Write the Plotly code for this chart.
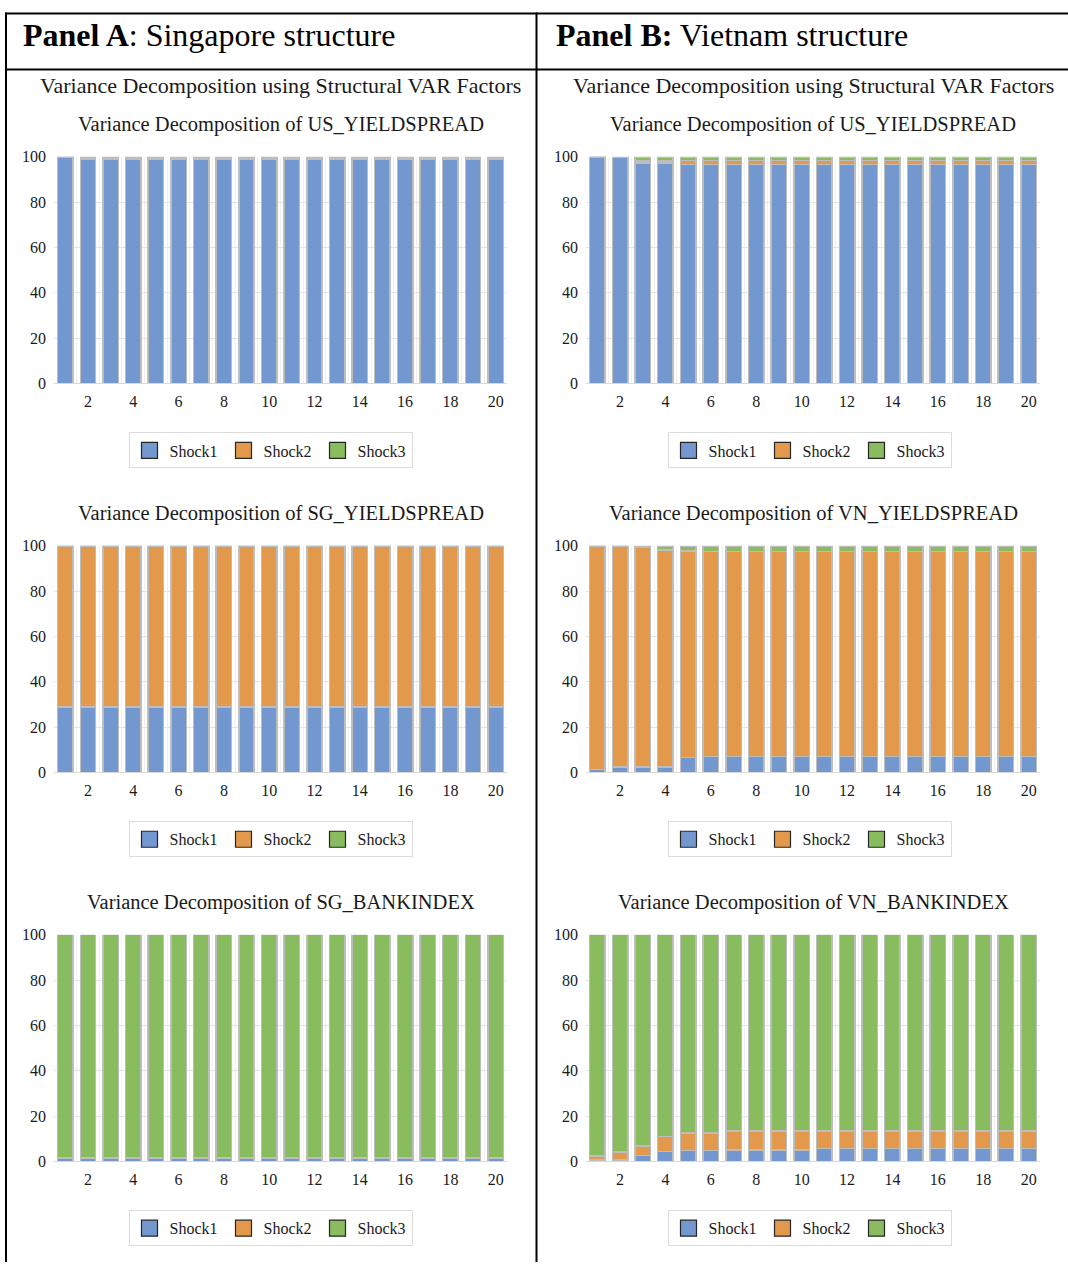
import plotly.graph_objects as go

# ---------------- data ----------------
periods = list(range(1, 21))
shock_names = ["Shock1", "Shock2", "Shock3"]
shock_colors = ["#7397CF", "#E2994C", "#88BC5E"]

chart_titles = [
    "Variance Decomposition of US_YIELDSPREAD",
    "Variance Decomposition of US_YIELDSPREAD",
    "Variance Decomposition of SG_YIELDSPREAD",
    "Variance Decomposition of VN_YIELDSPREAD",
    "Variance Decomposition of SG_BANKINDEX",
    "Variance Decomposition of VN_BANKINDEX",
]

# Panel A (Singapore) - US_YIELDSPREAD
a_us_s1 = [99.7, 98.9, 98.8, 98.8, 98.8, 98.8, 98.8, 98.8, 98.8, 98.8, 98.8, 98.8, 98.8, 98.8, 98.8, 98.8, 98.8, 98.8, 98.8, 98.8]
a_us_s2 = [0.1, 0.3, 0.3, 0.3, 0.3, 0.3, 0.3, 0.3, 0.3, 0.3, 0.3, 0.3, 0.3, 0.3, 0.3, 0.3, 0.3, 0.3, 0.3, 0.3]
a_us_s3 = [0.2, 0.8, 0.9, 0.9, 0.9, 0.9, 0.9, 0.9, 0.9, 0.9, 0.9, 0.9, 0.9, 0.9, 0.9, 0.9, 0.9, 0.9, 0.9, 0.9]
# Panel A - SG_YIELDSPREAD
a_sg_s1 = [28.9, 28.8, 28.8, 28.8, 28.8, 28.8, 28.8, 28.8, 28.8, 28.8, 28.8, 28.8, 28.8, 28.8, 28.8, 28.8, 28.8, 28.8, 28.8, 28.8]
a_sg_s2 = [71.1, 71.0, 71.0, 71.0, 71.0, 71.0, 71.0, 71.0, 71.0, 71.0, 71.0, 71.0, 71.0, 71.0, 71.0, 71.0, 71.0, 71.0, 71.0, 71.0]
a_sg_s3 = [0.0, 0.2, 0.2, 0.2, 0.2, 0.2, 0.2, 0.2, 0.2, 0.2, 0.2, 0.2, 0.2, 0.2, 0.2, 0.2, 0.2, 0.2, 0.2, 0.2]
# Panel A - SG_BANKINDEX
a_bk_s1 = [1.3, 1.2, 1.2, 1.2, 1.2, 1.2, 1.2, 1.2, 1.2, 1.2, 1.2, 1.2, 1.2, 1.2, 1.2, 1.2, 1.2, 1.2, 1.2, 1.2]
a_bk_s2 = [0.2, 0.3, 0.3, 0.3, 0.3, 0.3, 0.3, 0.3, 0.3, 0.3, 0.3, 0.3, 0.3, 0.3, 0.3, 0.3, 0.3, 0.3, 0.3, 0.3]
a_bk_s3 = [98.5, 98.5, 98.5, 98.5, 98.5, 98.5, 98.5, 98.5, 98.5, 98.5, 98.5, 98.5, 98.5, 98.5, 98.5, 98.5, 98.5, 98.5, 98.5, 98.5]

# Panel B (Vietnam) - US_YIELDSPREAD
b_us_s1 = [99.9, 99.6, 97.3, 97.2, 96.7, 96.6, 96.6, 96.6, 96.6, 96.6, 96.6, 96.6, 96.6, 96.6, 96.6, 96.6, 96.6, 96.6, 96.6, 96.6]
b_us_s2 = [0.0, 0.1, 0.8, 0.9, 1.6, 1.7, 1.7, 1.7, 1.7, 1.7, 1.7, 1.7, 1.7, 1.7, 1.7, 1.7, 1.7, 1.7, 1.7, 1.7]
b_us_s3 = [0.1, 0.3, 1.9, 1.9, 1.7, 1.7, 1.7, 1.7, 1.7, 1.7, 1.7, 1.7, 1.7, 1.7, 1.7, 1.7, 1.7, 1.7, 1.7, 1.7]
# Panel B - VN_YIELDSPREAD
b_vn_s1 = [1.2, 2.4, 2.5, 2.5, 6.5, 7.0, 7.1, 7.1, 7.1, 7.1, 7.1, 7.1, 7.1, 7.1, 7.1, 7.1, 7.1, 7.1, 7.1, 7.1]
b_vn_s2 = [98.8, 97.5, 96.9, 95.7, 91.1, 90.5, 90.4, 90.4, 90.4, 90.4, 90.4, 90.4, 90.4, 90.4, 90.4, 90.4, 90.4, 90.4, 90.4, 90.4]
b_vn_s3 = [0.0, 0.1, 0.6, 1.8, 2.4, 2.5, 2.5, 2.5, 2.5, 2.5, 2.5, 2.5, 2.5, 2.5, 2.5, 2.5, 2.5, 2.5, 2.5, 2.5]
# Panel B - VN_BANKINDEX
b_bk_s1 = [0.7, 0.6, 2.5, 4.3, 4.9, 4.9, 5.0, 5.0, 5.0, 5.0, 5.6, 5.6, 5.6, 5.6, 5.6, 5.6, 5.6, 5.6, 5.6, 5.6]
b_bk_s2 = [1.6, 3.6, 4.2, 6.6, 7.7, 7.7, 8.3, 8.3, 8.3, 8.3, 7.7, 7.7, 7.7, 7.7, 7.7, 7.7, 7.7, 7.7, 7.7, 7.7]
b_bk_s3 = [97.7, 95.8, 93.3, 89.1, 87.4, 87.4, 86.7, 86.7, 86.7, 86.7, 86.7, 86.7, 86.7, 86.7, 86.7, 86.7, 86.7, 86.7, 86.7, 86.7]

panels = [
    [a_us_s1, a_us_s2, a_us_s3],
    [b_us_s1, b_us_s2, b_us_s3],
    [a_sg_s1, a_sg_s2, a_sg_s3],
    [b_vn_s1, b_vn_s2, b_vn_s3],
    [a_bk_s1, a_bk_s2, a_bk_s3],
    [b_bk_s1, b_bk_s2, b_bk_s3],
]

# ---------------- layout geometry (pixels) ----------------
W, H = 1068, 1271
FONT = "Liberation Serif, Times New Roman, serif"
TXT = "#1a1a1a"

col_x = [(54, 507), (586, 1040)]
row_top0, row_bot0, row_step = 157, 384, 389.5
legend_cx = [270.5, 809.5]
legend_cy0 = 451
title_cy0 = 125

# the captured page shows the figure with a small vertical offset / squeeze;
# target screen rows are converted to figure rows here
Y_OFF, Y_SCALE = 8.0, 0.988

def px(x):
    return x / W

def py(y):
    ly = (y - Y_OFF) / Y_SCALE
    return min(1.0, max(0.0, 1 - ly / H))

fig = go.Figure()
layout_axes = {}
annotations = []

for k, series in enumerate(panels):
    r, c = divmod(k, 2)
    idx = k + 1
    xa = "x" if idx == 1 else f"x{idx}"
    ya = "y" if idx == 1 else f"y{idx}"
    lg = "legend" if idx == 1 else f"legend{idx}"
    for s, vals in enumerate(series):
        fig.add_trace(go.Bar(
            x=periods, y=vals, name=shock_names[s],
            marker=dict(color=shock_colors[s], line=dict(color="#BDBDBD", width=1.5)),
            xaxis=xa, yaxis=ya, showlegend=False,
        ))
    for s in range(3):
        fig.add_trace(go.Scatter(
            x=[None], y=[None], mode="markers", name=shock_names[s],
            marker=dict(symbol="square", size=16, color=shock_colors[s],
                        line=dict(color="#262626", width=1.2)),
            xaxis=xa, yaxis=ya, legend=lg, showlegend=True,
        ))
    top = row_top0 + r * row_step
    bot = row_bot0 + r * row_step
    x0, x1 = col_x[c]
    xkey = "xaxis" if idx == 1 else f"xaxis{idx}"
    ykey = "yaxis" if idx == 1 else f"yaxis{idx}"
    layout_axes[xkey] = dict(
        domain=[px(x0), px(x1)], anchor=ya, range=[0.5, 20.5],
        tickmode="linear", tick0=0, dtick=2, ticks="", showgrid=False,
        showline=True, linecolor="#D9D9D9", linewidth=1,
        tickfont=dict(family=FONT, size=16, color=TXT), ticklabelstandoff=3,
        minor=dict(tick0=0.5, dtick=1, showgrid=True, gridcolor="#F1F1F1", gridwidth=1),
        fixedrange=True, zeroline=False,
    )
    layout_axes[ykey] = dict(
        domain=[py(bot), py(top)], anchor=xa, range=[0, 100],
        tickmode="linear", tick0=0, dtick=20, ticks="",
        showgrid=True, gridcolor="#E4E4E4", gridwidth=1, zeroline=False,
        tickfont=dict(family=FONT, size=16, color=TXT), ticklabelstandoff=7,
        fixedrange=True,
    )
    layout_axes[lg] = dict(
        orientation="h", x=px(legend_cx[c]), y=py(legend_cy0 + r * row_step),
        xanchor="center", yanchor="middle", bgcolor="rgba(255,255,255,0)",
        bordercolor="#DCDCDC", borderwidth=1,
        font=dict(family=FONT, size=16, color=TXT),
        itemsizing="trace", entrywidth=49, traceorder="normal",
    )
    annotations.append(dict(
        text=chart_titles[k], x=px((x0 + x1) / 2), y=py(title_cy0 + r * row_step),
        xref="paper", yref="paper", xanchor="center", yanchor="middle",
        showarrow=False, font=dict(family=FONT, size=20.5, color=TXT),
    ))

# panel headers and section subtitles
annotations += [
    dict(text="<b>Panel A</b>: Singapore structure", x=px(21), y=py(35),
         xref="paper", yref="paper", xanchor="left", yanchor="middle",
         showarrow=False, font=dict(family=FONT, size=32, color="#000000")),
    dict(text="<b>Panel B:</b> Vietnam structure", x=px(554), y=py(35),
         xref="paper", yref="paper", xanchor="left", yanchor="middle",
         showarrow=False, font=dict(family=FONT, size=32, color="#000000")),
    dict(text="Variance Decomposition using Structural VAR Factors", x=px(280), y=py(86),
         xref="paper", yref="paper", xanchor="center", yanchor="middle",
         showarrow=False, font=dict(family=FONT, size=22, color=TXT)),
    dict(text="Variance Decomposition using Structural VAR Factors", x=px(813), y=py(86),
         xref="paper", yref="paper", xanchor="center", yanchor="middle",
         showarrow=False, font=dict(family=FONT, size=22, color=TXT)),
]

line = dict(color="#000000", width=2)
shapes = [
    dict(type="line", xref="paper", yref="paper", x0=px(5), x1=1, y0=py(13.5), y1=py(13.5), line=line),
    dict(type="line", xref="paper", yref="paper", x0=px(5), x1=1, y0=py(69.5), y1=py(69.5), line=line),
    dict(type="line", xref="paper", yref="paper", x0=px(6), x1=px(6), y0=py(12.5), y1=0, line=line),
    dict(type="line", xref="paper", yref="paper", x0=px(536.5), x1=px(536.5), y0=py(12.5), y1=0, line=line),
]

fig.update_layout(
    width=W, height=H, margin=dict(l=0, r=0, t=0, b=0),
    paper_bgcolor="white", plot_bgcolor="white",
    barmode="stack", bargap=0.32,
    annotations=annotations, shapes=shapes,
    font=dict(family=FONT, color=TXT),
    **layout_axes,
)

fig.write_html("out.html", include_plotlyjs=True, config={"displayModeBar": False})
